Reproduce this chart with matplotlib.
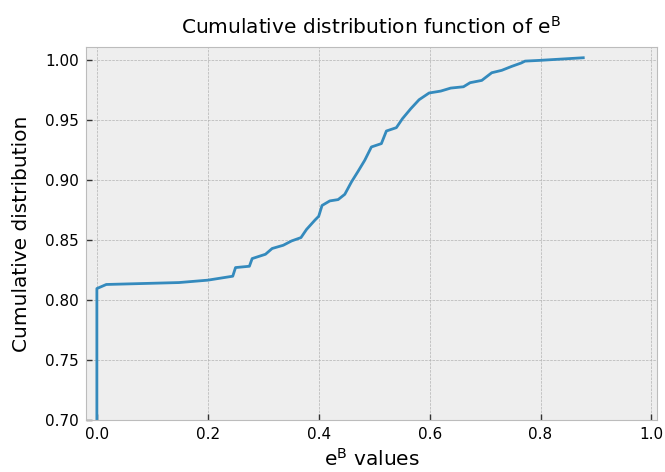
import matplotlib
matplotlib.use("Agg")
import matplotlib.pyplot as plt

# points (e^B value, cumulative fraction)
eb_values = [0.0, 0.0, 0.017, 0.148, 0.2, 0.245, 0.25, 0.275, 0.28, 0.304,
             0.316, 0.336, 0.351, 0.368, 0.378, 0.393, 0.4, 0.406, 0.42, 0.435,
             0.447, 0.459, 0.471, 0.483, 0.495, 0.513, 0.522, 0.54, 0.551, 0.566,
             0.581, 0.599, 0.62, 0.638, 0.661, 0.673, 0.694, 0.712, 0.73, 0.748,
             0.765, 0.772, 0.798, 0.877]
cdf_values = [0.70, 0.8097, 0.8131, 0.8147, 0.8167, 0.82, 0.8272, 0.8283, 0.8347, 0.8383,
              0.8431, 0.8458, 0.8494, 0.8522, 0.859, 0.8667, 0.87, 0.879, 0.8828, 0.8839,
              0.8883, 0.8986, 0.9075, 0.9167, 0.9278, 0.9306, 0.9411, 0.9439, 0.9514, 0.9597,
              0.9672, 0.9728, 0.9744, 0.9769, 0.978, 0.9814, 0.9833, 0.9897, 0.9917, 0.995,
              0.9978, 0.9994, 1.0, 1.0022]

plt.style.use('bmh')
fig = plt.figure(figsize=(6.65, 4.72), dpi=100)
ax = fig.add_axes([0.129, 0.11, 0.859, 0.79])

ax.plot(eb_values, cdf_values)
ax.set_xlim(-0.02, 1.01)
ax.set_ylim(0.70, 1.011)
ax.set_xticks([0.0, 0.2, 0.4, 0.6, 0.8, 1.0])
ax.set_xticklabels(['0.0', '0.2', '0.4', '0.6', '0.8', '1.0'])
ax.tick_params(direction='in', length=4, width=1, color='#333333',
               labelsize=11, pad=5)

ax.set_title(r'Cumulative distribution function of $\mathregular{e^B}$',
             fontsize=14.5, pad=10)
ax.set_xlabel(r'$\mathregular{e^B}$ values', fontsize=14.5, labelpad=4)
ax.set_ylabel('Cumulative distribution', fontsize=14.5, labelpad=10)

fig.savefig('out.png', dpi=100)
